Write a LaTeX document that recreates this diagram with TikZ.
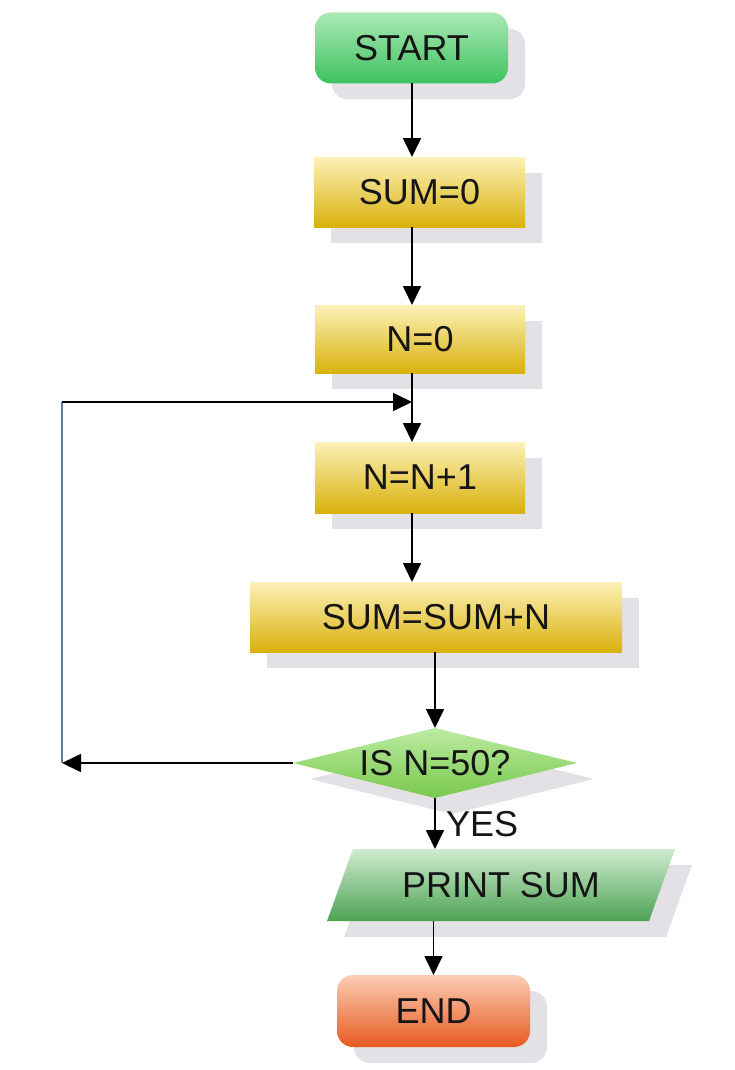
\documentclass[tikz,border=0pt]{standalone}
\usepackage{fontspec}
\setmainfont{Liberation Sans}
\usetikzlibrary{shapes.geometric,arrows.meta,shadows,shadings}
\definecolor{txt}{HTML}{151515}
\definecolor{shadowc}{HTML}{E3E1E6}
\definecolor{gtop}{HTML}{AAE9B6}
\definecolor{gbot}{HTML}{3EC25E}
\definecolor{ytop}{HTML}{FCF1B8}
\definecolor{ybot}{HTML}{D9B10C}
\definecolor{dtop}{HTML}{BCEBA2}
\definecolor{dbot}{HTML}{78C84C}
\definecolor{ptop}{HTML}{D0EBCF}
\definecolor{pbot}{HTML}{4CA354}
\definecolor{etop}{HTML}{FDCCB6}
\definecolor{ebot}{HTML}{E65A1E}
\definecolor{loopc}{HTML}{5E7D98}
\begin{document}
\begin{tikzpicture}[x=1pt,y=-1pt,
  every node/.style={font=\fontsize{36}{40}\selectfont, text=txt},
  base/.style={inner sep=0pt, outer sep=0pt, draw=none},
  shd/.style={drop shadow={shadow xshift=17pt, shadow yshift=-16pt, fill=shadowc, opacity=1}},
  term/.style={base, shd, rounded corners=16pt, minimum width=193pt, minimum height=71pt},
  proc/.style={base, shd, minimum height=70pt, top color=ytop, bottom color=ybot},
  arr/.style={line width=1.7pt, black, -{Triangle[length=19pt,width=18pt]}}]
\fill[white] (0,0) rectangle (735,1070);
\useasboundingbox (0,0) rectangle (735,1070);
\coordinate (spine) at (412,0);
% nodes
\node[term, top color=gtop, bottom color=gbot] (start) at (411.5,48) {START};
\node[proc, minimum width=211pt] (sum0) at (419.5,192) {SUM=0};
\node[proc, minimum width=210pt, minimum height=68pt] (nzero) at (420,339) {N=0};
\node[proc, minimum width=210pt, minimum height=71pt] (ninc) at (420,477.5) {N=N+1};
\node[proc, minimum width=372pt] (sumn) at (436,617) {SUM=SUM+N};
\node[base, shd, diamond, aspect=4, minimum width=284pt, minimum height=70pt,
      top color=dtop, bottom color=dbot] (dec) at (435,763) {IS N=50?};
% parallelogram
\fill[shadowc] (344,937) -- (666,937) -- (692,865) -- (370,865) -- cycle;
\shade[top color=ptop, bottom color=pbot] (327,921) -- (649,921) -- (675,849) -- (353,849) -- cycle;
\node[base, minimum width=322pt, minimum height=72pt] (print) at (501,885) {PRINT SUM};
\node[term, top color=etop, bottom color=ebot, minimum height=72pt] (end) at (433.5,1011) {END};
\node[base, anchor=west] (yes) at (446,824) {YES};
% connectors
\draw[arr] (start.south -| spine) -- (sum0.north -| spine);
\draw[arr] (sum0.south -| spine) -- (nzero.north -| spine);
\draw[arr] (nzero.south -| spine) -- (ninc.north -| spine);
\draw[arr] (ninc.south -| spine) -- (sumn.north -| spine);
\draw[arr] (sumn.south -| dec.north) -- (dec.north);
\draw[arr] (dec.south) -- (print.north -| dec.south);
\draw[arr] (print.south -| end.north) -- (end.north);
\coordinate (lb) at (62,763);
\coordinate (lt) at (62,402);
\coordinate (join) at (412,402);
\draw[arr] (dec.west) -- (lb);
\draw[line width=1.7pt, loopc] (lb) -- (lt);
\draw[arr] (lt) -- (join);
\end{tikzpicture}
\end{document}
